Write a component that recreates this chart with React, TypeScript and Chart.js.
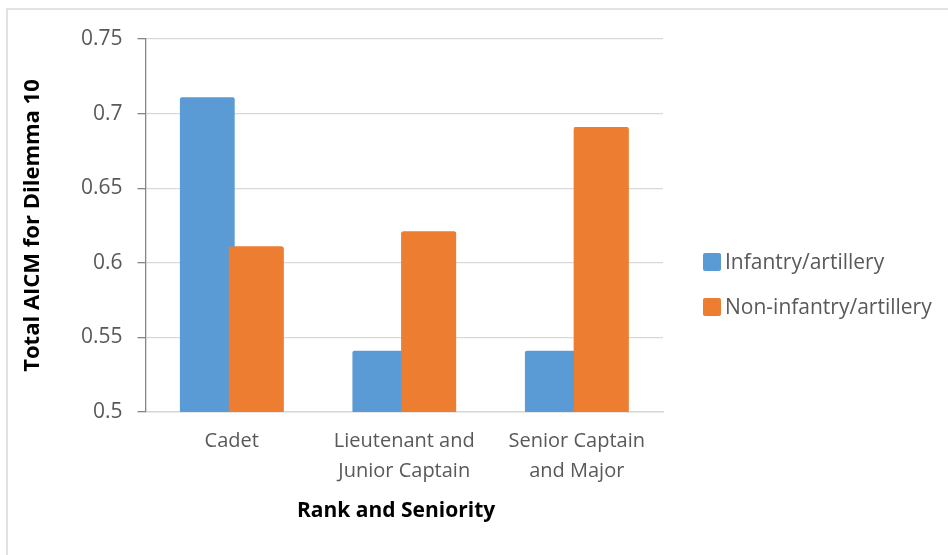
import React, { useEffect, useRef } from "react";
import { Chart, registerables } from "chart.js";

Chart.register(...registerables);

const categories: string[][] = [
  ["Cadet"],
  ["Lieutenant and", "Junior Captain"],
  ["Senior Captain", "and Major"],
];
const seriesNames = ["Infantry/artillery", "Non-infantry/artillery"];
const infantry = [0.711, 0.541, 0.541];
const nonInfantry = [0.611, 0.621, 0.691];
const yTicks = [0.5, 0.55, 0.6, 0.65, 0.7, 0.75];
const yTitle = "Total AICM for Dilemma 10";
const xTitle = "Rank and Seniority";

const BLUE = "#5B9BD5";
const ORANGE = "#ED7D31";
const FONT = "'Open Sans', 'Noto Sans', sans-serif";

const framePlugin = {
  id: "frame",
  beforeDraw(chart: any) {
    const ctx = chart.ctx;
    ctx.save();
    ctx.fillStyle = "#ffffff";
    ctx.fillRect(0, 0, chart.width, chart.height);
    ctx.strokeStyle = "#D9D9D9";
    ctx.lineWidth = 1.5;
    ctx.beginPath();
    ctx.moveTo(7, chart.height);
    ctx.lineTo(7, 9);
    ctx.lineTo(chart.width, 9);
    ctx.stroke();
    ctx.restore();
  },
};

// Excel draws later series on top of earlier ones where bars overlap
const overlapPlugin = {
  id: "overlapOrder",
  afterDatasetsDraw(chart: any) {
    const meta = chart.getDatasetMeta(1);
    const ctx = chart.ctx;
    const a = chart.chartArea;
    ctx.save();
    ctx.beginPath();
    ctx.rect(a.left, a.top - 2, a.right - a.left, a.bottom - a.top + 2);
    ctx.clip();
    meta.data.forEach((el: any) => el.draw(ctx));
    ctx.restore();
  },
};

const legendPlugin = {
  id: "customLegend",
  afterDraw(chart: any) {
    const ctx = chart.ctx;
    ctx.save();
    const x = chart.chartArea.right + 40;
    const y0 = 262;
    const gap = 45;
    chart.data.datasets.forEach((ds: any, i: number) => {
      const cy = y0 + i * gap;
      ctx.fillStyle = ds.backgroundColor;
      ctx.beginPath();
      (ctx as any).roundRect(x, cy - 9, 18, 18, 2);
      ctx.fill();
      ctx.fillStyle = "#595959";
      ctx.font = `21px ${FONT}`;
      ctx.textBaseline = "middle";
      ctx.textAlign = "left";
      ctx.fillText(ds.label, x + 22, cy + 1);
    });
    ctx.restore();
  },
};

export default function App() {
  const ref = useRef<HTMLCanvasElement>(null);

  useEffect(() => {
    document.body.style.margin = "0";
    const chart = new Chart(ref.current!, {
      type: "bar",
      data: {
        labels: categories,
        datasets: [
          {
            label: seriesNames[0],
            data: infantry,
            backgroundColor: BLUE,
            borderRadius: 2,
            borderSkipped: "start",
          },
          {
            label: seriesNames[1],
            data: nonInfantry,
            backgroundColor: ORANGE,
            borderRadius: 2,
            borderSkipped: "start",
          },
        ],
      },
      options: {
        animation: false,
        responsive: true,
        maintainAspectRatio: false,
        layout: { padding: { left: 20, right: 285, top: 39, bottom: 31 } },
        datasets: {
          bar: { categoryPercentage: 0.567, barPercentage: 1.12 },
        },
        plugins: {
          legend: { display: false },
          tooltip: { enabled: false },
        },
        scales: {
          x: {
            grid: { display: false, drawTicks: false },
            border: { display: true, color: "#D9D9D9", width: 1.5 },
            ticks: {
              color: "#595959",
              font: { family: FONT, size: 20, lineHeight: 1.5 },
              padding: 14,
              maxRotation: 0,
              autoSkip: false,
            },
            title: {
              display: true,
              text: xTitle + "   ",
              color: "#000000",
              font: { family: FONT, size: 21, weight: "bold", lineHeight: 1.2 },
              padding: 0,
            },
            afterFit(scale: any) {
              scale.height = 112;
            },
          },
          y: {
            min: 0.5,
            max: 0.75,
            afterBuildTicks(scale: any) {
              scale.ticks = yTicks.map((v) => ({ value: v }));
            },
            grid: {
              color: "#D9D9D9",
              lineWidth: 1.3,
              tickLength: 8,
              tickColor: "#868686",
            },
            border: { display: true, color: "#868686", width: 1.3 },
            ticks: {
              color: "#595959",
              font: { family: FONT, size: 21 },
              padding: 15,
              callback: (v: any) => String(Number(v)),
            },
            title: {
              display: true,
              text: yTitle,
              color: "#000000",
              font: { family: FONT, size: 22, weight: "bold", lineHeight: 1.2 },
              padding: 0,
            },
            afterFit(scale: any) {
              scale.width = 125.5;
            },
          },
        },
      },
      plugins: [framePlugin, overlapPlugin, legendPlugin],
    });
    return () => chart.destroy();
  }, []);

  return (
    <div style={{ width: 948, height: 555, position: "relative" }}>
      <canvas ref={ref} />
    </div>
  );
}
